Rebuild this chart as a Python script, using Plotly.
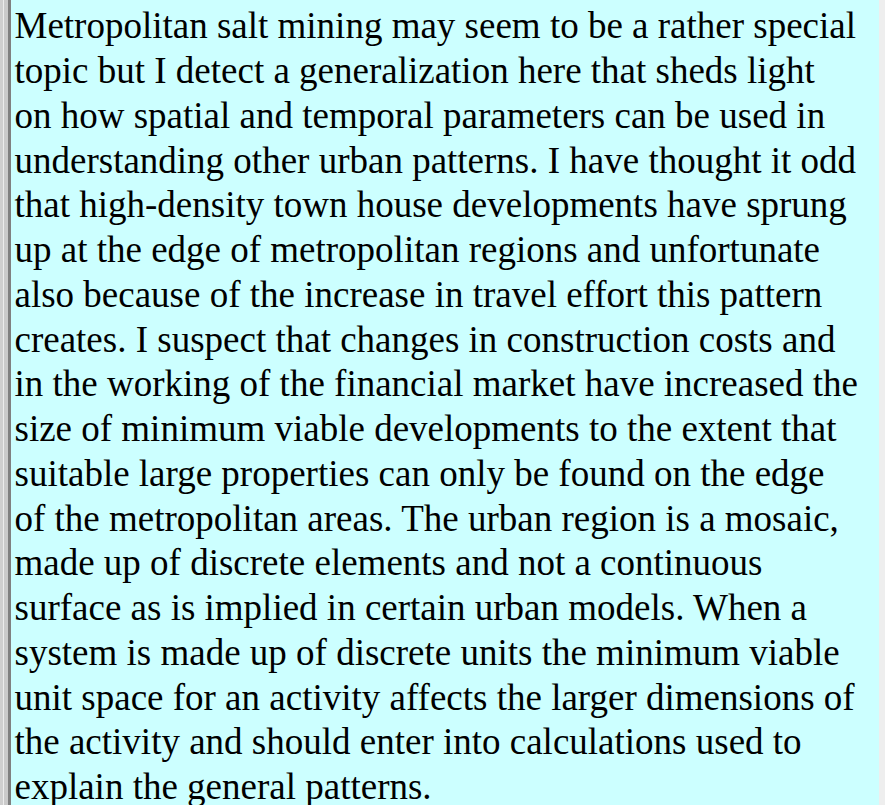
import plotly.graph_objects as go

lines = [
    "Metropolitan salt mining may seem to be a rather special",
    "topic but I detect a generalization here that sheds light",
    "on how spatial and temporal parameters can be used in",
    "understanding other urban patterns. I have thought it odd",
    "that high-density town house developments have sprung",
    "up at the edge of metropolitan regions and unfortunate",
    "also because of the increase in travel effort this pattern",
    "creates. I suspect that changes in construction costs and",
    "in the working of the financial market have increased the",
    "size of minimum viable developments to the extent that",
    "suitable large properties can only be found on the edge",
    "of the metropolitan areas. The urban region is a mosaic,",
    "made up of discrete elements and not a continuous",
    "surface as is implied in certain urban models. When a",
    "system is made up of discrete units the minimum viable",
    "unit space for an activity affects the larger dimensions of",
    "the activity and should enter into calculations used to",
    "explain the general patterns.",
]
line_index = list(range(len(lines)))

W, H = 885, 805
FIRST = 29
STEP = 44.75
X0 = 14.5

fig = go.Figure()
fig.add_trace(go.Scatter(
    x=[X0] * len(lines),
    y=[FIRST + i * STEP for i in line_index],
    text=lines,
    mode="text",
    textposition="middle right",
    textfont=dict(family="Liberation Serif, Times New Roman, serif", size=37, color="#000000"),
    hoverinfo="skip",
    showlegend=False,
))

bands = [
    (0, 3, "#cfcfcf"),
    (3, 4, "#ececec"),
    (4, 8, "#cacaca"),
    (8, 11, "#808080"),
    (11, 879, "#ccffff"),
    (879, 885, "#eeeeee"),
]
for x0, x1, c in bands:
    fig.add_shape(type="rect", xref="x", yref="y", x0=x0, x1=x1, y0=0, y1=H,
                  fillcolor=c, line=dict(width=0), layer="below")

fig.update_layout(
    width=W, height=H,
    margin=dict(l=0, r=0, t=0, b=0),
    paper_bgcolor="#ffffff", plot_bgcolor="#ffffff",
    xaxis=dict(range=[0, W], visible=False, fixedrange=True),
    yaxis=dict(range=[H, 0], visible=False, fixedrange=True),
)
fig.write_html(
    "out.html",
    config={"displayModeBar": False},
    post_script="document.body.style.margin='0';document.body.style.overflow='hidden';",
)
